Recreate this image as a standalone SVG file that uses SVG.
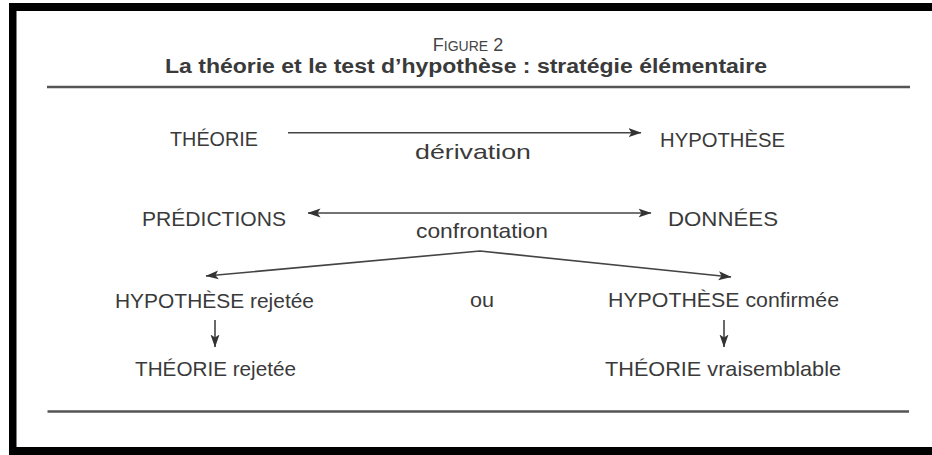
<svg xmlns="http://www.w3.org/2000/svg" width="932" height="455" viewBox="0 0 932 455">
<style>
.t{font-family:"Liberation Sans",Arial,sans-serif;font-size:21px;fill:#3a3a3a}
.title{font-family:"Liberation Sans",Arial,sans-serif;font-size:20px;font-weight:bold;fill:#3a3a3a}
.fig{font-family:"Liberation Sans",Arial,sans-serif;fill:#444}
.c{fill:none;stroke:#444;stroke-width:1.6}
.rule{stroke:#555;stroke-width:2.6}
</style>
<defs>
<marker id="ah" viewBox="0 0 13 10" refX="12.5" refY="5" markerWidth="13" markerHeight="10" markerUnits="userSpaceOnUse" orient="auto-start-reverse">
<path d="M0,0.5 L13,5 L0,9.5 L3,5 z" fill="#333"/>
</marker>
</defs>
<rect width="932" height="455" fill="#fff"/>
<g id="frame" fill="#000">
<rect x="9" y="3" width="923" height="8"/>
<rect x="9" y="3" width="7.5" height="452"/>
<rect x="9" y="447" width="923" height="8"/>
</g>
<g id="header">
<text class="fig" x="468" y="51" text-anchor="middle"><tspan font-size="18">F</tspan><tspan font-size="14">IGURE</tspan><tspan font-size="18"> 2</tspan></text>
<text class="title" x="165" y="73" textLength="602" lengthAdjust="spacingAndGlyphs">La théorie et le test d’hypothèse : stratégie élémentaire</text>
<line class="rule" x1="47" y1="87" x2="910" y2="87"/>
</g>
<g id="connectors">
<line class="c" x1="288" y1="132.7" x2="641" y2="132.7" marker-end="url(#ah)"/>
<line class="c" x1="308" y1="213" x2="651" y2="213" marker-start="url(#ah)" marker-end="url(#ah)"/>
<polyline class="c" points="206,276 480,251 731,277" marker-start="url(#ah)" marker-end="url(#ah)"/>
<line class="c" x1="215" y1="320" x2="215" y2="347" marker-end="url(#ah)"/>
<line class="c" x1="724" y1="320" x2="724" y2="347" marker-end="url(#ah)"/>
</g>
<g id="theorie"><text class="t" x="170" y="146" textLength="88" lengthAdjust="spacingAndGlyphs">THÉORIE</text></g>
<g id="hypothese"><text class="t" x="660" y="147" textLength="125" lengthAdjust="spacingAndGlyphs">HYPOTHÈSE</text></g>
<g id="label-derivation"><text class="t" x="415" y="159" textLength="116" lengthAdjust="spacingAndGlyphs">dérivation</text></g>
<g id="predictions"><text class="t" x="142" y="226" textLength="144" lengthAdjust="spacingAndGlyphs">PRÉDICTIONS</text></g>
<g id="donnees"><text class="t" x="668" y="226" textLength="110" lengthAdjust="spacingAndGlyphs">DONNÉES</text></g>
<g id="label-confrontation"><text class="t" x="416" y="238" textLength="132" lengthAdjust="spacingAndGlyphs">confrontation</text></g>
<g id="hyp-rejetee"><text class="t" x="115" y="308" textLength="199" lengthAdjust="spacingAndGlyphs">HYPOTHÈSE rejetée</text></g>
<g id="ou"><text class="t" x="470" y="307" textLength="24" lengthAdjust="spacingAndGlyphs">ou</text></g>
<g id="hyp-confirmee"><text class="t" x="608" y="307" textLength="231" lengthAdjust="spacingAndGlyphs">HYPOTHÈSE confirmée</text></g>
<g id="theorie-rejetee"><text class="t" x="135" y="376" textLength="161" lengthAdjust="spacingAndGlyphs">THÉORIE rejetée</text></g>
<g id="theorie-vraisemblable"><text class="t" x="605" y="376" textLength="236" lengthAdjust="spacingAndGlyphs">THÉORIE vraisemblable</text></g>
<g id="footer"><line class="rule" x1="47.5" y1="411.5" x2="909" y2="411.5"/></g>
</svg>
